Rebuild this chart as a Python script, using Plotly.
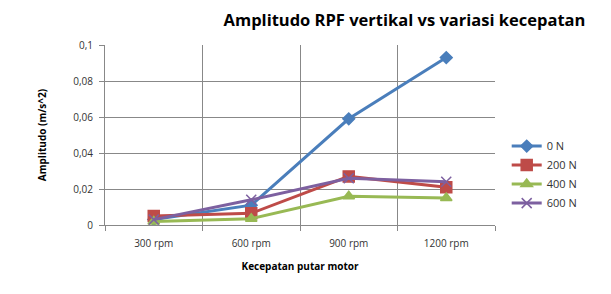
import plotly.graph_objects as go

categories = ["300 rpm", "600 rpm", "900 rpm", "1200 rpm"]
series_names = ["0 N", "200 N", "400 N", "600 N"]
v_0N = [0.003, 0.011, 0.059, 0.093]
v_200N = [0.005, 0.0065, 0.027, 0.021]
v_400N = [0.002, 0.0035, 0.016, 0.015]
v_600N = [0.003, 0.014, 0.026, 0.024]
y_ticks = [0, 0.02, 0.04, 0.06, 0.08, 0.1]
y_tick_labels = ["0", "0,02", "0,04", "0,06", "0,08", "0,1"]

colors = ["#4A7EBB", "#BE4B48", "#98B954", "#7D60A0"]
symbols = ["diamond", "square", "triangle-up", "x-thin"]
sizes = [9, 11, 10, 10]

fig = go.Figure()
for name, vals, c, s, sz in zip(series_names, [v_0N, v_200N, v_400N, v_600N], colors, symbols, sizes):
    fig.add_trace(go.Scatter(
        x=categories, y=vals, name=name, mode="lines+markers",
        line=dict(color=c, width=3),
        marker=dict(symbol=s, size=sz, color=c, line=dict(color=c, width=1.5)),
    ))

fig.update_layout(
    width=611, height=294,
    margin=dict(l=105, r=116, t=45, b=69),
    paper_bgcolor="white", plot_bgcolor="white",
    font=dict(family="Open Sans, Liberation Sans, sans-serif", size=10, color="#333"),
    title=dict(text="<b>Amplitudo RPF vertikal vs variasi kecepatan</b>",
               x=0.662, xanchor="center", y=0.93, yanchor="middle",
               font=dict(size=16.5, color="#000")),
    showlegend=True,
    legend=dict(x=1.03, xanchor="left", y=0.28, yanchor="middle",
                font=dict(size=11), tracegroupgap=0, itemwidth=30,
                bgcolor="rgba(0,0,0,0)"),
    xaxis=dict(
        type="category", range=[-0.5, 3.5], tickson="boundaries", ticks="outside", ticklen=5,
        tickcolor="#888", showgrid=True, gridcolor="#888", gridwidth=1,
        showline=True, linecolor="#888", linewidth=1,
        ticklabelstandoff=9,
        title=dict(text="<b>Kecepatan putar motor</b>", font=dict(size=10, color="#000"), standoff=13),
        tickfont=dict(size=10),
    ),
    yaxis=dict(
        range=[0, 0.1], tickvals=y_ticks, ticktext=y_tick_labels,
        ticks="outside", ticklen=5, tickcolor="#888",
        showgrid=True, gridcolor="#888", gridwidth=1,
        showline=True, linecolor="#888", linewidth=1, zeroline=False,
        ticklabelstandoff=4,
        title=dict(text="<b>Amplitudo (m/s^2)</b>", font=dict(size=10, color="#000"), standoff=24),
        tickfont=dict(size=10),
    ),
)

fig.write_html("out.html")
